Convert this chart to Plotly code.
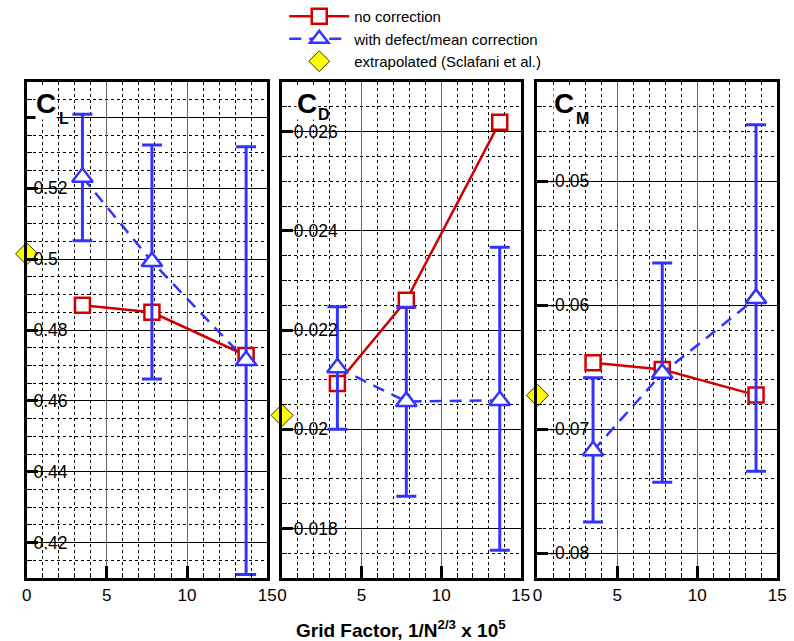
import plotly.graph_objects as go

# ---------------- data ----------------
grid_factor = [3.48, 7.81, 13.68]

cl_no_corr = [0.4870, 0.4850, 0.4728]
cl_corr = [0.5231, 0.4993, 0.4714]
cl_corr_hi = [0.5409, 0.5322, 0.5317]
cl_corr_lo = [0.5052, 0.4662, 0.4110]
cl_extrap = [0.5015]

cd_no_corr = [0.02092, 0.02260, 0.02619]
cd_corr = [0.02124, 0.02056, 0.02058]
cd_corr_hi = [0.02247, 0.02246, 0.02367]
cd_corr_lo = [0.02000, 0.01865, 0.01756]
cd_extrap = [0.02028]

cm_no_corr = [-0.06464, -0.06518, -0.06725]
cm_corr = [-0.07174, -0.06548, -0.05945]
cm_corr_hi = [-0.06585, -0.05659, -0.04545]
cm_corr_lo = [-0.07749, -0.07428, -0.07340]
cm_extrap = [-0.06727]

extrap_x = [0]

cl_ticks = [0.42, 0.44, 0.46, 0.48, 0.50, 0.52, 0.54]
cl_ticktext = ["0.42", "0.44", "0.46", "0.48", "0.5", "0.52", ""]
cd_ticks = [0.018, 0.020, 0.022, 0.024, 0.026]
cd_ticktext = ["0.018", "0.02", "0.022", "0.024", "0.026"]
cm_ticks = [-0.08, -0.07, -0.06, -0.05]
cm_ticktext = ["-0.08", "-0.07", "-0.06", "-0.05"]
x_ticks = [0, 5, 10, 15]
x_ticktext = ["0", "5", "10", "15"]

names = ["no correction", "with defect/mean correction", "extrapolated (Sclafani et al.)"]
panel_sub = ["L", "D", "M"]

RED = "#d00000"
BLUE = "#3333ff"
YELLOW = "#ffff00"
FONT = "Liberation Sans, Arial, sans-serif"

W, H = 794, 641
x_domains = [(22 / W, 267 / W), (282 / W, 525 / W), (542 / W, 786 / W)]
label_offsets = [6, 11, 11]
title_c_px = [31, 296, 558]
title_sub_px = [54, 318, 580]
title_sub_py = [118, 114, 119]
y_domain = (1 - 578 / H, 1 - 82 / H)

panels = [
    dict(nc=cl_no_corr, c=cl_corr, hi=cl_corr_hi, lo=cl_corr_lo, ex=cl_extrap,
         rng=[0.41, 0.55], tv=cl_ticks, tt=cl_ticktext, minor=0.005),
    dict(nc=cd_no_corr, c=cd_corr, hi=cd_corr_hi, lo=cd_corr_lo, ex=cd_extrap,
         rng=[0.017, 0.027], tv=cd_ticks, tt=cd_ticktext, minor=0.0005),
    dict(nc=cm_no_corr, c=cm_corr, hi=cm_corr_hi, lo=cm_corr_lo, ex=cm_extrap,
         rng=[-0.082, -0.042], tv=cm_ticks, tt=cm_ticktext, minor=0.002),
]

fig = go.Figure()
layout = dict(
    width=W, height=H,
    margin=dict(l=0, r=0, t=0, b=0),
    paper_bgcolor="white", plot_bgcolor="white",
    font=dict(family=FONT, size=15, color="black"),
    showlegend=True,
    legend=dict(x=0.358, y=1.0, xanchor="left", yanchor="top",
                font=dict(size=15, family=FONT), tracegroupgap=0,
                itemwidth=60, bgcolor="rgba(0,0,0,0)"),
)
annotations = []

for i, p in enumerate(panels):
    sfx = "" if i == 0 else str(i + 1)
    lab_sfx = str(i + 4)
    xa, ya, yl = "x" + sfx, "y" + sfx, "y" + lab_sfx
    up = [h - c for h, c in zip(p["hi"], p["c"])]
    dn = [c - l for c, l in zip(p["c"], p["lo"])]
    fig.add_trace(go.Scatter(
        x=grid_factor, y=p["nc"], xaxis=xa, yaxis=ya, name=names[0],
        mode="lines+markers", legendgroup="nc", showlegend=(i == 0),
        line=dict(color=RED, width=2.5),
        marker=dict(symbol="square", size=15, color="white",
                    line=dict(color=RED, width=2.5)),
        cliponaxis=False))
    fig.add_trace(go.Scatter(
        x=grid_factor, y=p["c"], xaxis=xa, yaxis=ya, name=names[1],
        mode="lines+markers", legendgroup="c", showlegend=(i == 0),
        line=dict(color=BLUE, width=2.5, dash="12px,8px"),
        marker=dict(symbol="triangle-up", size=18, color="white",
                    line=dict(color=BLUE, width=2.5)),
        error_y=dict(type="data", symmetric=False, array=up, arrayminus=dn,
                     color=BLUE, thickness=3, width=10),
        cliponaxis=False))
    # extrapolated value drawn on the label-carrying overlay axis (same range)
    fig.add_trace(go.Scatter(
        x=extrap_x, y=p["ex"], xaxis=xa, yaxis=yl, name=names[2],
        mode="markers", legendgroup="ex", showlegend=(i == 0),
        marker=dict(symbol="diamond", size=17, color=YELLOW,
                    line=dict(color="#333300", width=1)),
        cliponaxis=False))

    layout["xaxis" + sfx] = dict(
        domain=list(x_domains[i]), anchor=ya, range=[0, 15],
        tickmode="array", tickvals=x_ticks, ticktext=x_ticktext,
        ticks="inside", ticklen=12, tickwidth=3, tickcolor="black",
        showline=True, linecolor="black", linewidth=3, mirror=True,
        showgrid=True, gridcolor="#666666", gridwidth=1,
        zeroline=False, tickfont=dict(size=17, family=FONT),
        minor=dict(tickmode="linear", tick0=0, dtick=1, ticks="inside",
                   ticklen=5, tickwidth=1, tickcolor="black",
                   showgrid=True, gridcolor="black", griddash="dot", gridwidth=1),
    )
    layout["yaxis" + sfx] = dict(
        domain=list(y_domain), anchor=xa, range=p["rng"],
        tickmode="array", tickvals=p["tv"], showticklabels=False,
        ticks="inside", ticklen=11, tickwidth=3, tickcolor="black",
        showline=True, linecolor="black", linewidth=3, mirror=True,
        showgrid=True, gridcolor="black", gridwidth=1,
        zeroline=False,
        minor=dict(tickmode="linear", tick0=0, dtick=p["minor"], ticks="inside",
                   ticklen=5, tickwidth=1, tickcolor="black",
                   showgrid=True, gridcolor="black", griddash="dot", gridwidth=1),
    )
    # overlay axis carrying left-aligned tick labels inside the panel
    layout["yaxis" + lab_sfx] = dict(
        domain=list(y_domain), overlaying=ya, anchor="free", side="right",
        position=x_domains[i][0] + label_offsets[i] / W, range=p["rng"],
        tickmode="array", tickvals=p["tv"], ticktext=p["tt"],
        ticks="", showline=False, showgrid=False, zeroline=False,
        tickfont=dict(size=17.5, family=FONT, color="black"),
    )
    annotations.append(dict(
        text="<b>C</b>", xref="paper", yref="paper",
        x=title_c_px[i] / W, y=1 - 104 / H,
        xanchor="left", yanchor="middle", showarrow=False,
        font=dict(size=28, family=FONT, color="black"),
        bgcolor="white", borderpad=0))
    annotations.append(dict(
        text="<b>" + panel_sub[i] + "</b>", xref="paper", yref="paper",
        x=title_sub_px[i] / W, y=1 - title_sub_py[i] / H,
        xanchor="left", yanchor="middle", showarrow=False,
        font=dict(size=16, family=FONT, color="black"),
        borderpad=0))

annotations.append(dict(
    text="<b>Grid Factor, 1/N<sup>2/3</sup> x 10<sup>5</sup></b>",
    xref="paper", yref="paper", x=403 / W, y=1 - 629 / H,
    xanchor="center", yanchor="middle", showarrow=False,
    font=dict(size=19, family=FONT, color="black")))

layout["annotations"] = annotations
fig.update_layout(**layout)
fig.write_html("out.html")
